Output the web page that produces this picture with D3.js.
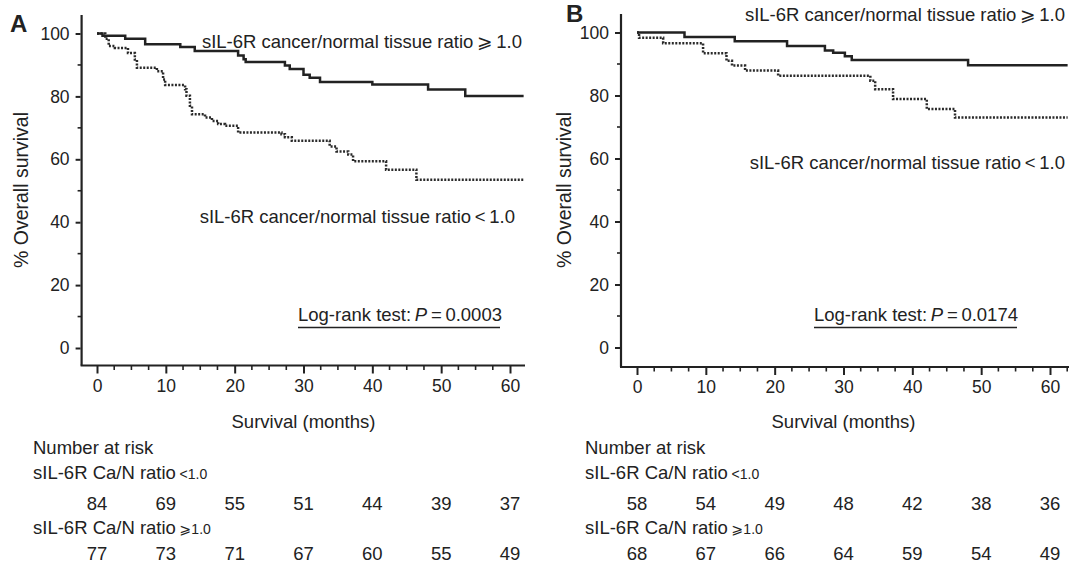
<!DOCTYPE html>
<html><head><meta charset="utf-8">
<script src="https://cdn.jsdelivr.net/npm/d3@7"></script>
<style>
html,body{margin:0;padding:0;background:#fff;}
svg text{font-family:"Liberation Sans",Arial,Helvetica,sans-serif;fill:#222;}
.sym{font-family:"DejaVu Sans","Liberation Sans",sans-serif;}
</style></head>
<body>
<svg id="chart" width="1070" height="564"></svg>
<script>
// ---------- data ----------
const xTicks = [0, 10, 20, 30, 40, 50, 60];
const yTicks = [0, 20, 40, 60, 80, 100];

// Panel A Kaplan-Meier steps [month, % survival]
const aHigh = [[0,100],[0.8,99.3],[4.1,98.3],[7.0,96.6],[12.1,95.7],[14.2,94.4],[20.5,93.0],[21.3,91.8],[21.6,90.9],[27.3,89.8],[28.0,88.7],[30.0,86.9],[30.9,85.9],[32.4,84.6],[40.0,83.8],[48.1,82.2],[53.5,80.1]];
const aLow = [[0,100],[1.2,98.3],[1.7,96.0],[2.6,95.4],[4.5,93.8],[5.5,91.7],[5.8,89.1],[8.7,88.0],[9.6,85.4],[9.9,83.6],[12.8,82.3],[13.0,80.2],[13.5,77.0],[13.8,74.3],[15.7,73.3],[16.7,72.2],[17.6,71.2],[18.6,70.7],[20.5,68.5],[26.8,68.0],[27.3,67.0],[28.3,65.9],[33.8,64.1],[34.8,62.5],[36.5,61.5],[37.2,59.4],[42.0,56.7],[46.4,53.5]];
// Panel B
const bHigh = [[0,100],[6.9,98.6],[14.2,97.2],[21.8,95.7],[27.3,94.3],[28.5,93.6],[30.2,92.5],[31.2,91.3],[48.1,89.6]];
const bLow = [[0,100],[0.3,98.3],[3.8,96.6],[9.6,93.4],[13.0,91.0],[13.8,89.5],[15.7,87.9],[20.5,86.3],[33.9,84.7],[34.6,82.0],[37.2,78.9],[42.1,75.7],[46.2,73.0]];

// Numbers at risk
const aRiskLow = [84, 69, 55, 51, 44, 39, 37];
const aRiskHigh = [77, 73, 71, 67, 60, 55, 49];
const bRiskLow = [58, 54, 49, 48, 42, 38, 36];
const bRiskHigh = [68, 67, 66, 64, 59, 54, 49];

const pValues = ["0.0003", "0.0174"];
const panelLetters = ["A", "B"];

// ---------- drawing ----------
const svg = d3.select("#chart");
const ink = "#222";
const FS = 18.5;

const panels = [
  {letter: panelLetters[0], high: aHigh, low: aLow, riskLow: aRiskLow, riskHigh: aRiskHigh, p: pValues[0],
   axisX: 81.6, x0: 97, x60: 510, xEnd: 525, yBottom: 348, yTop: 33.5, axisY: 365.5, axisTop: 15,
   letterX: 10, letterY: 32, titleX: 27.5,
   hiLabel: {x: 522, y: 48}, loLabel: {x: 515, y: 223}, logX: 298, logW: 202, riskX: 33},
  {letter: panelLetters[1], high: bHigh, low: bLow, riskLow: bRiskLow, riskHigh: bRiskHigh, p: pValues[1],
   axisX: 621, x0: 637, x60: 1050, xEnd: 1069, yBottom: 347.5, yTop: 32.5, axisY: 367, axisTop: 14,
   letterX: 566, letterY: 22, titleX: 571,
   hiLabel: {x: 1065, y: 21}, loLabel: {x: 1065, y: 169}, logX: 814, logW: 203, riskX: 585}
];

panels.forEach(P => {
  const g = svg.append("g");
  const x = d3.scaleLinear().domain([0, 60]).range([P.x0, P.x60]);
  const xMaxVal = x.invert(P.xEnd);
  const y = d3.scaleLinear().domain([0, 100]).range([P.yBottom, P.yTop]);

  // axis lines
  g.append("line").attr("x1", P.axisX).attr("x2", P.axisX).attr("y1", P.axisTop).attr("y2", P.axisY)
    .attr("stroke", ink).attr("stroke-width", 2.2);
  g.append("line").attr("x1", P.axisX - 1).attr("x2", P.xEnd).attr("y1", P.axisY).attr("y2", P.axisY)
    .attr("stroke", ink).attr("stroke-width", 2.2);

  // y ticks
  const yAxis = d3.axisLeft(y).tickValues(yTicks).tickSize(5).tickPadding(6);
  const ya = g.append("g").attr("transform", `translate(${P.axisX - 1},0)`).call(yAxis);
  ya.select(".domain").remove();
  ya.selectAll(".tick line").attr("stroke", ink).attr("stroke-width", 2);
  ya.selectAll(".tick text").attr("font-size", 17.5).attr("fill", ink)
    .style("font-family", '"Liberation Sans",Arial,sans-serif');
  const yMinor = d3.range(10, 100, 20);
  g.selectAll(".ymin").data(yMinor).enter().append("line")
    .attr("x1", P.axisX - 4).attr("x2", P.axisX).attr("y1", d => y(d)).attr("y2", d => y(d))
    .attr("stroke", ink).attr("stroke-width", 1.6);

  // x ticks
  const xAxis = d3.axisBottom(x).tickValues(xTicks).tickSize(8).tickPadding(6);
  const xa = g.append("g").attr("transform", `translate(0,${P.axisY})`).call(xAxis);
  xa.select(".domain").remove();
  xa.selectAll(".tick line").attr("stroke", ink).attr("stroke-width", 2);
  xa.selectAll(".tick text").attr("font-size", 17.5).attr("fill", ink)
    .style("font-family", '"Liberation Sans",Arial,sans-serif');
  const xMinor = d3.range(0, xMaxVal, 2.5).filter(v => v % 10 !== 0);
  g.selectAll(".xmin").data(xMinor).enter().append("line")
    .attr("x1", d => x(d)).attr("x2", d => x(d)).attr("y1", P.axisY).attr("y2", P.axisY + 4.5)
    .attr("stroke", ink).attr("stroke-width", 1.6);

  // curves
  const line = d3.line().x(d => x(d[0])).y(d => y(d[1])).curve(d3.curveStepAfter);
  const ext = arr => arr.concat([[xMaxVal - 0.2, arr[arr.length - 1][1]]]);
  g.append("path").attr("d", line(ext(P.low))).attr("fill", "none")
    .attr("stroke", "#2a2a2a").attr("stroke-width", 2.5).attr("stroke-dasharray", "2,1.5");
  g.append("path").attr("d", line(ext(P.high))).attr("fill", "none")
    .attr("stroke", ink).attr("stroke-width", 2.5);

  // panel letter
  g.append("text").attr("x", P.letterX).attr("y", P.letterY).attr("font-size", 24)
    .attr("font-weight", "bold").text(P.letter);

  // y title
  g.append("text").attr("transform", `translate(${P.titleX},190) rotate(-90)`)
    .attr("text-anchor", "middle").attr("font-size", 19.5).text("% Overall survival");

  // curve labels
  const hl = g.append("text").attr("x", P.hiLabel.x).attr("y", P.hiLabel.y)
    .attr("text-anchor", "end").attr("font-size", FS);
  hl.append("tspan").text("sIL-6R cancer/normal tissue ratio\u2009");
  hl.append("tspan").attr("class", "sym").text("\u2A7E");
  hl.append("tspan").text("\u20091.0");
  const ll = g.append("text").attr("x", P.loLabel.x).attr("y", P.loLabel.y)
    .attr("text-anchor", "end").attr("font-size", FS);
  ll.append("tspan").text("sIL-6R cancer/normal tissue ratio\u2009<\u20091.0");

  // log-rank
  const lr = g.append("text").attr("x", P.logX).attr("y", 321).attr("font-size", FS);
  lr.append("tspan").text("Log-rank test:\u2009");
  lr.append("tspan").attr("font-style", "italic").text("P");
  lr.append("tspan").text("\u2009=\u2009" + P.p);
  g.append("line").attr("x1", P.logX).attr("x2", P.logX + P.logW).attr("y1", 327.5).attr("y2", 327.5)
    .attr("stroke", ink).attr("stroke-width", 1.5);

  // x title
  g.append("text").attr("x", x(30)).attr("y", 428).attr("text-anchor", "middle")
    .attr("font-size", FS).text("Survival (months)");

  // numbers at risk
  g.append("text").attr("x", P.riskX).attr("y", 454).attr("font-size", FS).text("Number at risk");
  const g1 = g.append("text").attr("x", P.riskX).attr("y", 479).attr("font-size", FS);
  g1.append("tspan").text("sIL-6R Ca/N ratio\u2009");
  g1.append("tspan").attr("font-size", 14).text("<1.0");
  const g2 = g.append("text").attr("x", P.riskX).attr("y", 534).attr("font-size", FS);
  g2.append("tspan").text("sIL-6R Ca/N ratio\u2009");
  g2.append("tspan").attr("font-size", 14).attr("class", "sym").text("\u2A7E");
  g2.append("tspan").attr("font-size", 14).text("1.0");

  g.selectAll(".rl").data(P.riskLow).enter().append("text")
    .attr("x", (d, i) => x(xTicks[i])).attr("y", 509.5).attr("text-anchor", "middle")
    .attr("font-size", FS).text(d => d);
  g.selectAll(".rh").data(P.riskHigh).enter().append("text")
    .attr("x", (d, i) => x(xTicks[i])).attr("y", 559.5).attr("text-anchor", "middle")
    .attr("font-size", FS).text(d => d);
});
</script>
</body></html>
